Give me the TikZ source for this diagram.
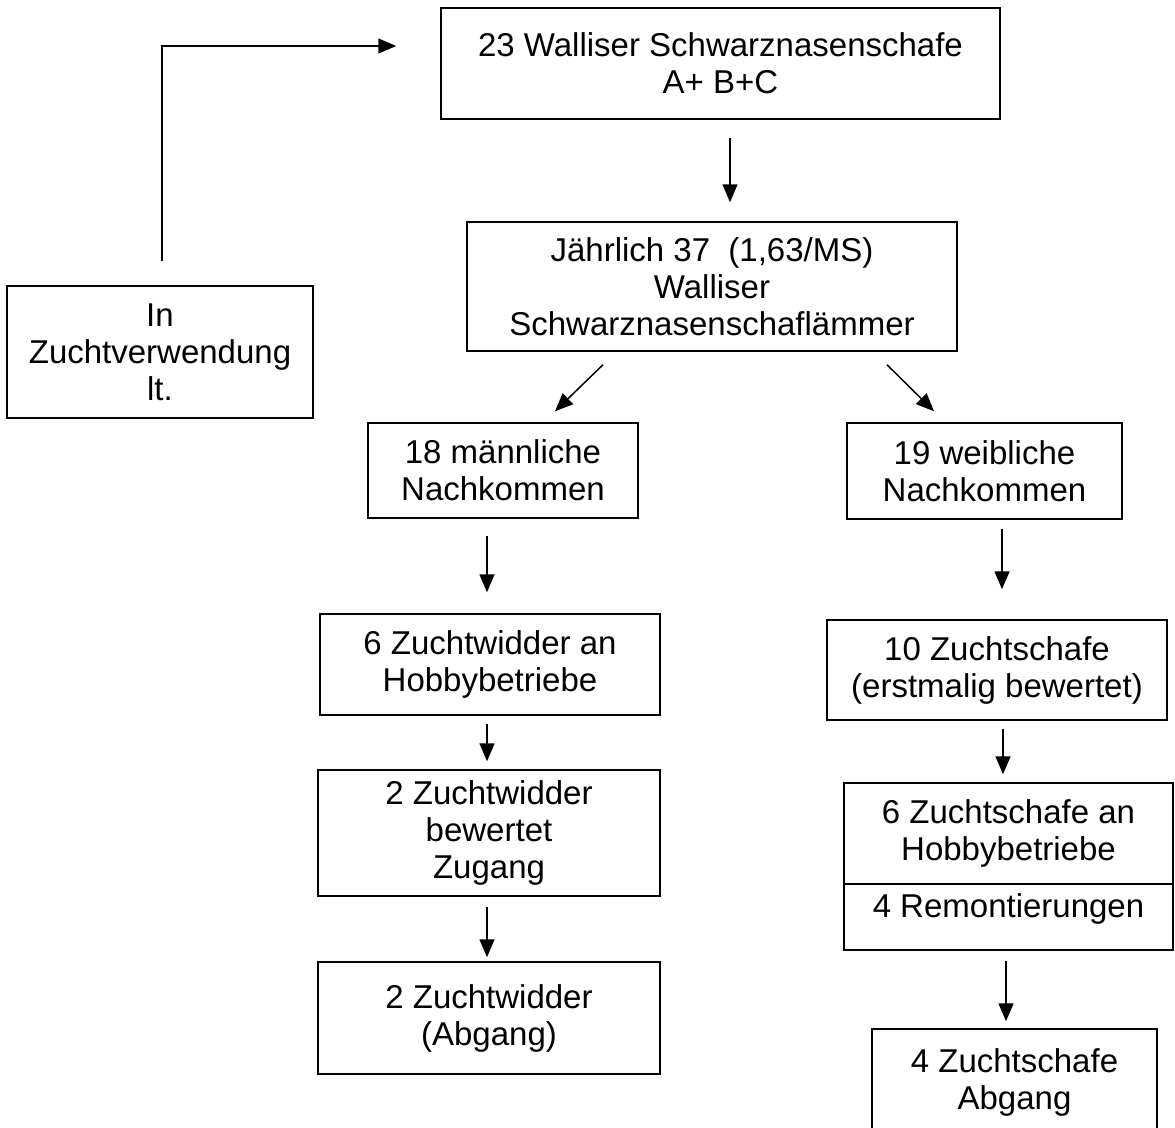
\documentclass[tikz,border=0pt]{standalone}
\usepackage{fontspec}
\setmainfont{Liberation Sans}
\usetikzlibrary{arrows.meta,calc}
\begin{document}
\begin{tikzpicture}[x=1pt,y=-1pt,
  box/.style={draw, line width=1.5pt, inner sep=0pt, align=center,
    font=\fontsize{33}{37}\selectfont},
  arr/.style={-{Triangle[length=18pt,width=15pt]}, line width=1.5pt}]
\useasboundingbox (0,0) rectangle (1175,1127);
\clip (0,0) rectangle (1175,1127);

\node[box, minimum width=559pt, minimum height=111pt] (top) at (720.5,63.5)
  {23 Walliser Schwarznasenschafe\\A+ B+C};
\node[box, minimum width=490pt, minimum height=129pt] (jahr) at (712,286.5)
  {Jährlich 37\ \ (1,63/MS)\\Walliser\\Schwarznasenschaflämmer};
\node[box, minimum width=306pt, minimum height=132pt] (inbox) at (160,352)
  {In\\Zuchtverwendung\\lt.};
\node[box, minimum width=270pt, minimum height=95pt] (male) at (503,470.5)
  {18 männliche\\Nachkommen};
\node[box, minimum width=275pt, minimum height=96pt] (female) at (984.5,471)
  {19 weibliche\\Nachkommen};
\node[box, minimum width=340pt, minimum height=101pt] (widder) at (490,664.5)
  {6 Zuchtwidder an\\Hobbybetriebe};
\node[box, minimum width=340pt, minimum height=100pt] (schafe) at (997,670)
  {10 Zuchtschafe\\(erstmalig bewertet)};
\node[box, minimum width=342pt, minimum height=126pt] (bew) at (489,833)
  {2 Zuchtwidder\\bewertet\\Zugang};
\node[box, minimum width=342pt, minimum height=112pt] (abg) at (489,1018)
  {2 Zuchtwidder\\(Abgang)};
\node[box, minimum width=329pt, minimum height=101pt] (stop) at (1008.5,833.5)
  {6 Zuchtschafe an\\Hobbybetriebe};
\node[draw, line width=1.5pt, inner sep=0pt, font=\fontsize{33}{37}\selectfont,
  minimum width=329pt, minimum height=66pt, text height=33pt, text depth=33pt]
  (sbot) at (1008.5,917) {4 Remontierungen};
\node[box, minimum width=285pt, minimum height=106pt] (zabg) at (1014.5,1082)
  {4 Zuchtschafe\\Abgang};

\draw[arr] ($(inbox.north)+(2,-24)$) |- ($(top.west)+(-44,-17.5)$);
\draw[arr] ($(top.south)+(9.5,18)$) -- ($(jahr.north)+(18,-19)$);
\draw[arr] ($(jahr.south)+(-109,13)$) -- ($(male.north)+(52,-11)$);
\draw[arr] ($(jahr.south)+(175,13)$) -- ($(female.north)+(-50.5,-11)$);
\draw[arr] ($(male.south)+(-16,17)$) -- ($(widder.north)+(-3,-21)$);
\draw[arr] ($(widder.south)+(-3,8)$) -- ($(bew.north)+(-2,-8)$);
\draw[arr] ($(bew.south)+(-2,10)$) -- ($(abg.north)+(-2,-4)$);
\draw[arr] ($(female.south)+(17.5,9)$) -- ($(schafe.north)+(5,-30)$);
\draw[arr] ($(schafe.south)+(6,8)$) -- ($(stop.north)+(-5.5,-8)$);
\draw[arr] ($(sbot.south)+(-2.5,10)$) -- ($(zabg.north)+(-8.5,-7)$);
\end{tikzpicture}
\end{document}
